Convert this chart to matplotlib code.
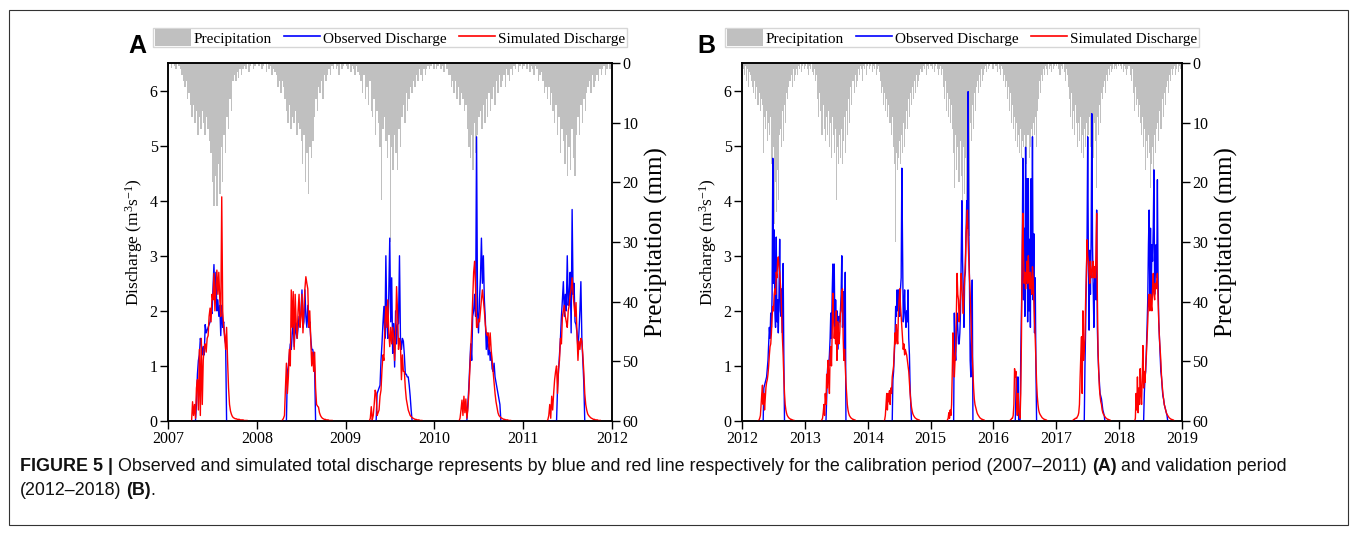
import pandas as pd
import matplotlib
matplotlib.use('Agg')
import matplotlib.pyplot as plt
import matplotlib.dates as mdates
from matplotlib.patches import Patch, Rectangle
from matplotlib.lines import Line2D
from matplotlib.transforms import IdentityTransform

plt.rcParams['font.family'] = 'Liberation Serif'
plt.rcParams['mathtext.fontset'] = 'custom'
plt.rcParams['mathtext.rm'] = 'Liberation Serif'
plt.rcParams['mathtext.it'] = 'Liberation Serif:italic'

# ---- discharge (m3/s), one value every 4 days from the season start ----
years_a = [2007, 2008, 2009, 2010, 2011]
start_a = ['2007-04-08', '2008-04-08', '2009-04-08', '2010-04-08', '2011-04-08']
years_b = [2012, 2013, 2014, 2015, 2016, 2017, 2018]
start_b = ['2012-04-01', '2013-04-01', '2014-04-01', '2015-04-01', '2016-04-01', '2017-04-01', '2018-04-01']

obs_2007 = [0, 0, 0, 0, 0, 0.3, 0.85, 1.1, 1.2, 1.5, 1.4, 1.2, 1.35, 1.2, 1.75, 1.6, 1.65, 1.7, 1.75, 1.8, 2.0, 1.95,
            2.4, 2.84, 2.2, 2.7, 2.0, 2.2, 1.9, 2.1, 1.55, 2.1, 1.7, 1.8, 1.5, 1.4, 0]
sim_2007 = [0, 0.35, 0.1, 0.3, 0.05, 0.6, 0.75, 0.2, 1.3, 0.1, 1.5, 0.3, 1.1, 1.35, 1.4, 1.25, 1.5, 1.55, 1.9, 2.05, 1.8,
            2.3, 2.2, 2.68, 2.0, 2.4, 2.74, 2.3, 2.7, 2.2, 1.9, 4.07, 2.0, 1.7, 1.55, 1.3, 1.7, 1.1, 0.6, 0.3, 0.18,
            0.12, 0.08, 0.06, 0.05, 0.04, 0.04, 0.03, 0.03, 0.03, 0.02, 0.02, 0.02, 0.02, 0.01, 0.01, 0.01, 0.01]
obs_2008 = [0, 0, 0, 0, 0, 0, 0, 0.9, 1.0, 1.2, 1.4, 1.3, 1.6, 1.75, 1.35, 1.8, 1.6, 1.5, 1.7, 1.9, 1.8, 2.0, 2.38,
            1.7, 1.8, 2.38, 1.9, 1.7, 2.1, 1.7, 1.8, 1.5, 1.3, 1.3, 1.2, 0.95, 0]
sim_2008 = [0, 0, 0.02, 0.05, 0.1, 0.6, 1.05, 0.5, 0.8, 1.3, 1.0, 2.38, 1.7, 2.35, 1.3, 2.3, 1.8, 1.5, 2.0, 2.3, 1.7,
            1.9, 2.3, 1.6, 2.0, 2.4, 2.62, 2.5, 2.4, 1.7, 2.0, 1.5, 1.0, 1.25, 0.9, 1.25, 0.6, 0.3, 0.27, 0.25, 0.15,
            0.1, 0.07, 0.05, 0.04, 0.03, 0.03, 0.02, 0.02, 0.02, 0.01, 0.01, 0.01, 0.01]
obs_2009 = [0, 0, 0, 0, 0, 0, 0, 0, 0.5, 0.55, 0.6, 0.65, 1.1, 1.4, 1.77, 2.08, 1.5, 3.0, 1.8, 1.5, 2.3, 3.32, 1.8,
            2.6, 1.23, 1.77, 0.98, 2.0, 1.4, 1.75, 1.77, 3.0, 1.5, 1.3, 1.5, 1.45, 1.2, 0.85, 0.85, 0.8, 0.8, 0.65,
            0.45, 0.2, 0]
sim_2009 = [0, 0.05, 0.26, 0.02, 0.1, 0.3, 0.56, 0.5, 0.1, 0.15, 0.2, 0.45, 0.56, 0.93, 1.2, 1.1, 1.77, 2.08, 1.7,
            2.2, 1.6, 1.35, 1.7, 1.4, 1.7, 1.5, 1.1, 1.6, 2.44, 2.0, 1.3, 1.5, 1.4, 0.75, 1.2, 0.9, 0.9, 0.6, 0.4,
            0.3, 0.2, 0.15, 0.1, 0.08, 0.06, 0.05, 0.04, 0.03, 0.03, 0.02, 0.02, 0.02, 0.01, 0.01, 0.01]
obs_2010 = [0, 0, 0, 0, 0, 0, 0, 0, 0, 0, 0.3, 0.6, 1.0, 1.4, 1.1, 1.9, 2.0, 2.3, 1.9, 5.16, 2.0, 1.6, 2.2, 2.6,
            3.32, 2.5, 3.0, 2.2, 1.85, 1.3, 1.6, 1.2, 1.4, 1.1, 1.25, 0.95, 0.9, 1.05, 0.8, 0.7, 0.6, 0.5, 0.4, 0.3, 0]
sim_2010 = [0, 0, 0.05, 0.2, 0.38, 0.1, 0.45, 0.15, 0.4, 0.05, 0.2, 0.5, 0.9, 1.3, 1.7, 2.2, 2.7, 2.9, 2.4, 1.7,
            1.7, 1.85, 1.8, 2.0, 2.2, 2.38, 2.2, 2.0, 1.75, 1.6, 1.55, 1.6, 1.3, 1.6, 1.3, 1.1, 0.9, 0.7, 0.5, 0.35,
            0.25, 0.15, 0.1, 0.08, 0.06, 0.05, 0.04, 0.03, 0.03, 0.02, 0.02, 0.02, 0.01, 0.01, 0.01]
obs_2011 = [0, 0, 0, 0, 0, 0, 0, 0, 0, 0, 0, 0.6, 0.9, 1.2, 1.5, 1.9, 2.2, 2.53, 1.9, 2.3, 2.0, 3.0, 2.1, 2.3, 2.7,
            1.6, 3.84, 2.3, 2.5, 1.8, 1.75, 1.6, 1.3, 1.6, 2.0, 2.53, 1.5, 1.1, 0.7, 0]
sim_2011 = [0, 0.02, 0.1, 0.3, 0.05, 0.45, 0.2, 0.5, 0.75, 0.9, 1.0, 0.5, 0.95, 1.1, 1.5, 1.4, 1.9, 2.0, 2.1, 1.9,
            1.8, 1.7, 2.0, 2.1, 2.3, 2.4, 2.6, 2.3, 2.1, 1.9, 2.15, 1.6, 1.1, 1.45, 1.3, 1.5, 1.45, 1.2, 0.9, 0.5,
            0.3, 0.2, 0.13, 0.1, 0.08, 0.06, 0.05, 0.04, 0.03, 0.03, 0.02, 0.02, 0.02, 0.01, 0.01, 0.01]

obs_2012 = [0, 0, 0, 0, 0, 0, 0, 0, 0, 0.6, 0.65, 0.7, 0.75, 0.8, 0.95, 1.1, 1.4, 1.7, 1.5, 1.96, 1.7, 2.3, 4.77,
            2.5, 3.47, 2.0, 1.7, 3.34, 1.8, 2.2, 1.6, 2.3, 3.3, 2.0, 1.9, 2.4, 1.6, 2.86, 1.2, 0]
sim_2012 = [0, 0, 0.02, 0.05, 0.1, 0.3, 0.5, 0.65, 0.3, 0.5, 0.2, 0.4, 0.6, 0.7, 0.75, 0.85, 1.0, 1.2, 1.35, 1.4,
            1.6, 1.9, 2.08, 2.0, 2.3, 2.4, 2.3, 2.7, 2.6, 2.9, 2.98, 2.8, 2.7, 2.5, 2.3, 1.9, 1.5, 1.2, 0.8, 0.5, 0.3,
            0.2, 0.14, 0.1, 0.08, 0.06, 0.05, 0.04, 0.03, 0.03, 0.02, 0.02, 0.01, 0.01]
obs_2013 = [0, 0, 0, 0, 0, 0, 0, 0, 0, 0.4, 0.87, 1.1, 1.0, 1.2, 1.5, 1.96, 1.5, 2.3, 2.85, 2.0, 2.85, 1.6, 2.2,
            1.7, 2.0, 1.3, 1.6, 1.9, 1.8, 2.0, 2.3, 3.0, 1.7, 1.9, 2.35, 1.2, 2.7, 0]
sim_2013 = [0, 0, 0.02, 0.05, 0.15, 0.3, 0.1, 0.5, 0.3, 0.85, 0.6, 1.1, 0.8, 0.5, 1.2, 1.35, 1.0, 1.6, 2.32, 1.9,
            1.5, 1.7, 1.4, 2.0, 1.1, 1.8, 1.6, 1.4, 1.6, 1.95, 2.0, 2.35, 2.4, 1.5, 1.1, 1.3, 1.0, 0.7, 0.5, 0.3, 0.2,
            0.14, 0.1, 0.08, 0.06, 0.05, 0.04, 0.03, 0.03, 0.02, 0.02, 0.01]
obs_2014 = [0, 0, 0, 0, 0, 0, 0, 0, 0, 0, 0, 0, 0, 0, 0.75, 0.9, 1.2, 1.5, 2.08, 1.9, 2.38, 2.0, 2.38, 2.2, 1.9,
            2.4, 2.6, 4.59, 3.17, 1.8, 2.0, 2.38, 1.9, 1.7, 2.0, 1.8, 2.38, 1.5, 1.2, 0.6, 0.3, 0]
sim_2014 = [0, 0, 0.02, 0.1, 0.3, 0.5, 0.2, 0.5, 0.35, 0.55, 0.3, 0.6, 0.5, 0.8, 0.9, 1.0, 1.3, 1.6, 1.4, 1.75,
            1.5, 1.4, 1.95, 2.2, 2.4, 2.1, 1.9, 1.7, 1.5, 1.3, 1.4, 1.2, 1.3, 1.25, 1.2, 1.1, 1.0, 0.9, 0.7, 0.5, 0.35,
            0.25, 0.18, 0.13, 0.1, 0.08, 0.06, 0.05, 0.04, 0.03, 0.03, 0.02, 0.02, 0.01]
obs_2015 = [0, 0, 0, 0, 0, 0, 0, 0, 0, 0, 0, 0, 1.96, 1.3, 1.1, 1.6, 1.96, 1.7, 1.4, 1.4, 1.6, 2.0, 3.0, 4.0, 2.9,
            2.3, 1.7, 2.6, 2.7, 3.4, 4.0, 3.5, 5.98, 3.5, 2.5, 1.1, 0.8, 1.5, 2.56, 0]
sim_2015 = [0, 0, 0.02, 0.05, 0.15, 0.05, 0.2, 0.1, 0.3, 0.9, 1.6, 1.2, 0.8, 1.1, 1.3, 2.0, 2.68, 2.3, 2.2, 1.8,
            2.0, 2.4, 2.68, 2.4, 2.2, 1.95, 2.3, 2.6, 2.9, 3.4, 3.6, 3.83, 3.3, 2.9, 2.6, 2.3, 1.9, 1.5, 1.2, 0.9, 0.6,
            0.4, 0.3, 0.25, 0.2, 0.15, 0.12, 0.1, 0.08, 0.06, 0.05, 0.04, 0.03, 0.03, 0.02, 0.02, 0.01]
obs_2016 = [0, 0, 0, 0, 0, 0, 0, 0, 0, 0, 0.5, 0.8, 0.3, 0.8, 0, 0, 0, 1.2, 2.0, 2.7, 4.77, 2.2, 3.5, 1.9, 4.97,
            2.5, 4.4, 1.8, 4.4, 2.0, 3.3, 1.7, 4.4, 2.6, 5.16, 2.2, 3.4, 1.6, 2.6, 1.0, 0]
sim_2016 = [0, 0, 0.02, 0.03, 0.05, 0.05, 0.1, 0.3, 0.95, 0.8, 0.9, 0.3, 0.1, 0.5, 0.2, 0.1, 0.05, 0.5, 1.5, 3.0,
            3.77, 3.0, 2.5, 2.7, 2.4, 2.6, 2.9, 2.5, 3.0, 2.6, 2.4, 2.7, 2.5, 2.3, 2.8, 2.6, 2.2, 1.8, 1.5, 1.1, 0.7,
            0.45, 0.3, 0.2, 0.15, 0.12, 0.1, 0.08, 0.06, 0.05, 0.04, 0.03, 0.03, 0.02, 0.02, 0.01]
obs_2017 = [0, 0, 0, 0, 0, 0, 0, 0, 0, 0, 0, 0, 0, 0, 0, 0, 0, 0, 0, 1.0, 1.7, 2.6, 3.2, 5.16, 2.9, 1.65, 3.1, 2.3,
            3.3, 5.58, 3.2, 2.4, 1.7, 2.5, 2.7, 2.2, 3.83, 1.7, 1.2, 0.9, 0.7, 0.5, 0.45, 0.4, 0.3, 0.2, 0.15, 0.1, 0]
sim_2017 = [0, 0, 0.02, 0.03, 0.03, 0.05, 0.05, 0.05, 0.08, 0.1, 0.15, 0.3, 0.8, 1.2, 1.53, 0.5, 2.0, 1.1, 1.3,
            1.5, 2.2, 2.6, 3.29, 3.0, 2.9, 2.7, 2.5, 2.9, 2.7, 2.6, 2.8, 2.9, 2.6, 2.8, 2.6, 3.0, 3.77, 2.3, 1.3, 0.9,
            0.6, 0.45, 0.35, 0.3, 0.2, 0.15, 0.12, 0.1, 0.08, 0.06, 0.05, 0.04, 0.03, 0.03, 0.02, 0.02, 0.01]
obs_2018 = [0, 0, 0, 0, 0, 0, 0, 0, 0, 0, 0, 0, 0, 0, 0.5, 0.8, 0.9, 1.3, 1.7, 2.2, 3.2, 3.83, 2.3, 3.5, 2.1, 3.2,
            2.9, 3.5, 4.56, 2.3, 3.0, 3.2, 2.6, 4.38, 2.5, 1.8, 1.5, 1.2, 0.9, 0.8, 0.6, 0.45, 0.4, 0.3, 0.25, 0.2,
            0.15, 0.1, 0]
sim_2018 = [0, 0.05, 0.5, 0.2, 0.8, 0.15, 0.6, 0.3, 0.95, 0.5, 0.3, 0.8, 1.37, 0.6, 0.9, 0.7, 1.0, 1.2, 1.5, 1.8,
            2.2, 2.3, 2.0, 2.3, 2.1, 2.0, 2.4, 2.68, 2.3, 2.2, 2.5, 2.4, 2.5, 2.68, 2.2, 1.8, 1.5, 1.3, 1.1, 0.8, 0.65,
            0.5, 0.4, 0.3, 0.25, 0.2, 0.15, 0.12, 0.1, 0.08, 0.06, 0.05, 0.04, 0.03, 0.03, 0.02, 0.02, 0.01]

# ---- precipitation (mm), one bar every 6 days from 1 January ----
precip_2007 = [0.5, 0, 0.8, 0, 0.5, 1, 0, 0.5, 1, 2, 3, 4, 3, 6, 5, 7, 9, 7, 10, 8, 12, 9, 11, 8, 10, 12, 9, 11, 13,
               15, 20, 24, 19, 24, 17, 22, 14, 20, 12, 15, 9, 11, 6, 8, 3, 2, 3, 1.5, 2.5, 1, 2, 1, 0.5, 1, 0, 1.5,
               0.5, 0, 1, 0.5, 0]
precip_2008 = [0, 0.5, 0, 1, 0.5, 0, 1.5, 0, 1, 0.5, 2, 1, 1.5, 2, 4, 3, 5, 3, 4, 6, 8, 10, 7, 11, 9, 10, 8, 12, 10,
               11, 13, 17, 12, 20, 15, 22, 14, 16, 13, 9, 6, 8, 4, 5, 3, 6, 2, 3, 2, 1, 2, 0.5, 1, 0, 1, 0.5, 2, 0, 1,
               0.5, 0]
precip_2009 = [0.5, 1, 0, 1.5, 0.5, 1, 2, 0.5, 1.5, 2, 3, 5, 2, 6, 4, 7, 3, 8, 9, 6, 12, 8, 10, 14, 23, 11, 9, 13,
               16, 12, 30, 14, 18, 12, 15, 18, 11, 14, 9, 7, 10, 5, 8, 6, 4, 5, 3, 4, 2, 3, 1, 2, 3, 1, 2, 1, 0.5, 1,
               0.5, 0, 1]
precip_2010 = [0, 1, 0.5, 0, 1, 0.5, 1.5, 0, 1, 2, 2, 4, 3, 5, 3, 6, 4, 7, 5, 6, 8, 7, 11, 14, 16, 12, 18, 10, 15,
               12, 9, 8, 11, 7, 10, 6, 9, 5, 8, 6, 4, 7, 3, 5, 2, 4, 3, 2, 4, 1, 2, 3, 1, 2, 0.5, 1, 0, 1.5, 0.5, 0, 1]
precip_2011 = [0.5, 0, 1, 0, 1.5, 0.5, 1, 2, 0.5, 1, 3, 2, 1.5, 3, 5, 4, 6, 4, 7, 5, 8, 10, 7, 12, 9, 15, 11, 13,
               17, 12, 19, 14, 18, 11, 16, 19, 12, 9, 12, 7, 10, 6, 8, 5, 4, 3, 5, 2, 4, 3, 2, 3, 1, 2, 1, 0.5, 2, 1,
               0, 1, 0.5]
precip_2012 = [0.5, 1, 2, 0.5, 3, 1, 4, 1.5, 2, 3, 4, 5, 3, 6, 4, 7, 5, 8, 6, 7, 15, 9, 11, 8, 13, 10, 12, 9, 17, 22,
               14, 27, 20, 25, 18, 23, 12, 11, 14, 8, 13, 7, 10, 5, 6, 4, 3, 2, 4, 1, 3, 2, 1, 2, 0.5, 1, 0, 1.5, 0.5,
               0, 1]
precip_2013 = [0.5, 0, 1, 2, 0.5, 1, 0, 1.5, 2, 1, 3, 2, 6, 9, 5, 8, 12, 7, 11, 13, 9, 12, 8, 14, 10, 16, 9, 12, 15,
               11, 23, 14, 17, 12, 16, 11, 17, 13, 9, 15, 8, 12, 6, 10, 4, 7, 3, 5, 2, 4, 3, 1, 2, 0.5, 1, 3, 0.5, 1,
               0, 2, 0.5]
precip_2014 = [0, 1, 0.5, 0, 1.5, 0.5, 1, 0, 2, 1, 0.5, 1.5, 3, 5, 4, 7, 5, 8, 6, 9, 7, 10, 12, 9, 14, 17, 30, 15,
               18, 16, 13, 17, 12, 15, 10, 14, 11, 8, 11, 6, 9, 5, 7, 4, 6, 3, 5, 2, 4, 3, 2, 1, 1.5, 0.5, 1, 0, 2,
               0.5, 1, 0, 0.5]
precip_2015 = [0.5, 1, 0, 1.5, 0.5, 0, 1, 2, 1, 0.5, 2, 1, 4, 6, 3, 8, 5, 9, 6, 10, 7, 11, 15, 21, 12, 18, 14, 20,
               13, 19, 25, 14, 22, 16, 24, 12, 18, 29, 10, 13, 7, 11, 5, 8, 4, 3, 5, 2, 4, 1, 3, 2, 1, 0.5, 1.5, 0, 1,
               0.5, 0, 1, 0.5]
precip_2016 = [1, 0, 0.5, 1.5, 0, 1, 2, 0.5, 1, 3, 2, 4, 3, 6, 4, 8, 5, 10, 7, 11, 9, 13, 10, 14, 12, 15, 11, 16,
               13, 14, 12, 15, 17, 12, 16, 14, 11, 13, 10, 12, 9, 14, 8, 6, 3, 5, 2, 3, 1, 2, 0.5, 1, 2, 0, 1, 0.5,
               1.5, 0, 1, 0.5, 0]
precip_2017 = [0.5, 0, 1, 2, 0.5, 1, 0, 1.5, 3, 1, 2, 4, 6, 9, 5, 11, 8, 12, 7, 10, 14, 10, 13, 9, 15, 12, 16, 11,
               14, 10, 13, 12, 9, 14, 11, 16, 10, 13, 21, 9, 12, 7, 10, 5, 6, 4, 3, 5, 2, 3, 1, 2, 0.5, 1.5, 1, 0, 1,
               0.5, 1, 0, 0.5]
precip_2018 = [0, 0.5, 1, 0, 1.5, 0.5, 1, 2, 1, 0.5, 2, 3, 1, 5, 8, 4, 7, 6, 9, 7, 10, 12, 9, 14, 11, 18, 13, 16,
               12, 15, 21, 17, 14, 19, 12, 15, 11, 10, 13, 8, 11, 6, 9, 5, 7, 4, 3, 5, 2, 3, 1, 2, 1, 0.5, 2, 1, 0,
               1.5, 0.5, 1, 0]

obs_a = [obs_2007, obs_2008, obs_2009, obs_2010, obs_2011]
sim_a = [sim_2007, sim_2008, sim_2009, sim_2010, sim_2011]
rain_a = [precip_2007, precip_2008, precip_2009, precip_2010, precip_2011]
obs_b = [obs_2012, obs_2013, obs_2014, obs_2015, obs_2016, obs_2017, obs_2018]
sim_b = [sim_2012, sim_2013, sim_2014, sim_2015, sim_2016, sim_2017, sim_2018]
rain_b = [precip_2012, precip_2013, precip_2014, precip_2015, precip_2016, precip_2017, precip_2018]

GRAY = '#c0c0c0'
BLUE = '#0000ff'
RED = '#ff0000'

W, H = 1357, 534
fig = plt.figure(figsize=(W / 100, H / 100), dpi=100)


def panel(rect, years, starts, obs, sim, rain, letter, letter_x):
    ax = fig.add_axes(rect)
    ax2 = ax.twinx()
    ax.set_zorder(ax2.get_zorder() + 1)
    ax.patch.set_visible(False)

    for yr, vals in zip(years, rain):
        d = pd.date_range(f'{yr}-01-01', periods=len(vals), freq='6D')
        ax2.bar(d, vals, width=6, align='edge', color=GRAY, linewidth=0)
    for st, o, s in zip(starts, obs, sim):
        ax.plot(pd.date_range(st, periods=len(o), freq='4D'), o, color=BLUE, lw=1.0)
        ax.plot(pd.date_range(st, periods=len(s), freq='4D'), s, color=RED, lw=1.0)

    ax.set_xlim(pd.Timestamp(f'{years[0]}-01-01'), pd.Timestamp(f'{years[-1] + 1}-01-01'))
    ax.set_ylim(0, 6.5)
    ax.set_yticks(range(0, 7))
    ax2.set_ylim(60, 0)
    ax2.set_yticks(range(0, 61, 10))
    ax.xaxis.set_major_locator(mdates.YearLocator())
    ax.xaxis.set_major_formatter(mdates.DateFormatter('%Y'))

    for a in (ax, ax2):
        a.tick_params(direction='out', length=5.5, width=1, labelsize=11.5, pad=2)
        for sp in a.spines.values():
            sp.set_linewidth(1.1)
    ax.set_ylabel('Discharge (m$^{3}$s$^{-1}$)', fontsize=12.5, labelpad=3)
    ax2.set_ylabel('Precipitation (mm)', fontsize=18, labelpad=5)

    handles = [Patch(facecolor=GRAY, edgecolor='none'),
               Line2D([], [], color=BLUE, lw=1.2),
               Line2D([], [], color=RED, lw=1.2)]
    ax.legend(handles, ['Precipitation', 'Observed Discharge', 'Simulated Discharge'],
              loc='center', bbox_to_anchor=(0.5, 1.071), ncol=3, fontsize=11, frameon=True,
              fancybox=False, edgecolor='#cccccc', handlelength=2.35, handleheight=1.25,
              handletextpad=0.2, columnspacing=0.8, borderpad=0.1, borderaxespad=0)
    fig.text(letter_x / W, 1 - 53 / H, letter, fontsize=18, weight='bold',
             family='Liberation Sans', va='baseline')


panel([168 / W, 113 / H, 444 / W, 358 / H], years_a, start_a, obs_a, sim_a, rain_a, 'A', 128)
panel([742 / W, 113 / H, 440 / W, 358 / H], years_b, start_b, obs_b, sim_b, rain_b, 'B', 697)

# frame round the whole figure
fig.add_artist(Rectangle((9 / W, 1 - 525 / H), 1339 / W, 515 / H, transform=fig.transFigure,
                         fill=False, edgecolor='#333333', lw=0.8))

# caption with bold runs
renderer = fig.canvas.get_renderer()
cap = dict(family='Liberation Sans', fontsize=12.9, color='#111111')


def text_width(s, weight):
    t = fig.text(0, 0, s, weight=weight, **cap)
    w = t.get_window_extent(renderer).width
    t.remove()
    return w


gap = text_width('x x', 'normal') - text_width('xx', 'normal')


def runs(x, y, parts):
    for s, weight, sep in parts:
        t = fig.text(x, y, s, weight=weight, transform=IdentityTransform(), va='baseline', **cap)
        x = t.get_window_extent(renderer).x1 + (gap if sep else -1)


runs(20, H - 471, [('FIGURE 5 |', 'bold', True),
                   ('Observed and simulated total discharge represents by blue and red line respectively '
                    'for the calibration period (2007\u20132011)', 'normal', True),
                   ('(A)', 'bold', True), ('and validation period', 'normal', True)])
runs(20, H - 495, [('(2012\u20132018)', 'normal', True), ('(B)', 'bold', False), ('.', 'normal', False)])

fig.savefig('out.png', dpi=100)
